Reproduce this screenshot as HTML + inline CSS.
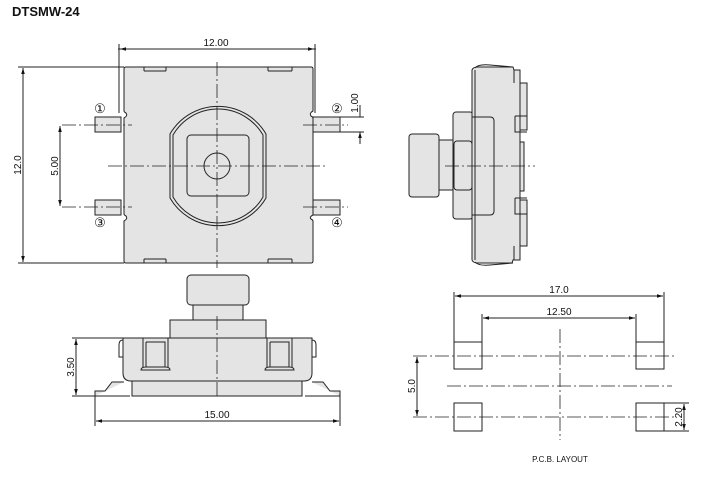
<!DOCTYPE html>
<html><head><meta charset="utf-8"><style>
html,body{margin:0;padding:0;background:#fff;width:703px;height:477px;overflow:hidden}
svg{display:block}
text{font-family:"Liberation Sans",sans-serif;fill:#111}
</style></head><body>
<svg width="703" height="477" viewBox="0 0 703 477" xmlns="http://www.w3.org/2000/svg">
<defs>
<marker id="a" viewBox="0 0 10 10" refX="10" refY="5" markerWidth="6" markerHeight="6" orient="auto-start-reverse"><path d="M0,2L10,5L0,8z" fill="#111"/></marker>
</defs>
<text x="12" y="16" font-size="13" font-weight="bold">DTSMW-24</text>
<g stroke="#222" stroke-width="1" fill="none">
<!-- TOP VIEW -->
<rect x="95" y="117" width="26" height="15" fill="#e4e4e4"/>
<rect x="95" y="200" width="26" height="15" fill="#e4e4e4"/>
<rect x="313" y="117" width="27" height="15" fill="#e4e4e4"/>
<rect x="313" y="200" width="27" height="15" fill="#e4e4e4"/>
<path d="M126,67 H311 Q313,67 313,69 V111 Q309,113 311,116 Q313,117 313,118 V215 Q309,217 311,219 Q313,220 313,221 V261 Q313,263 311,263 H126 Q124,263 124,261 V221 Q128,219 126,216 Q124,215 124,214 V118 Q128,116 126,113 Q124,112 124,111 V69 Q124,67 126,67Z" fill="#e4e4e4"/>
<path d="M144,71 V67 M166,71 V67 M144,71 H166 M268,71 H292 M268,71 V67 M292,71 V67 M144,259 H166 M144,259 V263 M166,259 V263 M268,259 H292 M268,259 V263 M292,259 V263"/>
<path d="M170,134 A55.5,55.5 0 0 1 266,134 V198 A55.5,55.5 0 0 1 170,198 Z"/>
<path d="M173,135 A52,52 0 0 1 263,135 V197 A52,52 0 0 1 173,197 Z"/>
<rect x="187" y="135" width="62" height="61" rx="4"/>
<circle cx="217" cy="166" r="13"/>
<g stroke-dasharray="14,3,2,3" stroke-width="0.8">
<path d="M108,166 H328 M217,62 V268 M62,125 H132 M62,207 H132 M303,125 H348 M303,207 H348"/>
</g>
<path d="M119,113 V44 M315,113 V44 M118,49 H316" />
<path d="M120,49 H314" marker-start="url(#a)" marker-end="url(#a)"/>
<path d="M18,67 H124 M18,263 H124"/>
<path d="M23,68 V262" marker-start="url(#a)" marker-end="url(#a)"/>
<path d="M60,126 V206" marker-start="url(#a)" marker-end="url(#a)"/>
<path d="M340,117 H364 M340,132 H364 M360,105 V117 M360,144 V132" />
<path d="M360,108 V117 M360,141 V132" marker-end="url(#a)"/>
<!-- SIDE VIEW -->
<rect x="409" y="134" width="30" height="63" rx="3" fill="#e4e4e4"/>
<rect x="439" y="140" width="14" height="50" fill="#e4e4e4"/>
<rect x="453" y="112" width="20" height="107" rx="3" fill="#e4e4e4"/>
<rect x="454" y="141" width="18" height="49" rx="3"/>
<path d="M472,70 Q473,67 478,67 H513 L514,70 H520 V83 H527 V130 H520 V142 H524 V191 H520 V200 H527 V246 H520 V260 H513 L512,263 H478 Q473,263 472,260 Z" fill="#e4e4e4"/>
<path d="M475,70 V260 M472,117 H490 Q494,117 494,121 V211 Q494,215 490,215 H472 M520,70 V260 M514,70 V83 M514,246 V260 M515,116 H527 M515,116 V132 H527 M515,198 H527 M515,198 V214 H527"/>
<path d="M475,68 Q478,64 490,65 L513,67 M475,262 Q478,266 490,265 L513,263"/>
<path d="M445,166 H535" stroke-dasharray="14,3,2,3" stroke-width="0.8"/>
<!-- FRONT VIEW -->
<rect x="187" y="275" width="62" height="30" rx="4" fill="#e4e4e4"/>
<rect x="193" y="305" width="50" height="15" fill="#e4e4e4"/>
<rect x="170" y="320" width="96" height="18" fill="#e4e4e4"/>
<path d="M95,396 V391 H105 L112,382 H124 M340,396 V391 H330 L323,382 H312 M95,396 H130 M340,396 H305" fill="#e4e4e4"/>
<rect x="132" y="381" width="170" height="15" fill="#e4e4e4"/>
<path d="M123,338 H312 V373 Q312,381 304,381 H131 Q123,381 123,373 Z" fill="#e4e4e4"/>
<path d="M123,340 Q119,340 119,345 V357 H123 M312,340 Q316,340 316,345 V357 H312"/>
<path d="M143,338 V367 M168,338 V367 M146,342 H165 V367 M146,342 V367 M141,370 Q141,367 146,367 H165 Q170,367 170,370 Z M267,338 V367 M292,338 V367 M270,342 H289 V367 M270,342 V367 M265,370 Q265,367 270,367 H289 Q294,367 294,370 Z"/>
<path d="M217,316 V398" stroke-dasharray="14,3,2,3" stroke-width="0.8"/>
<path d="M72,338 H123 M72,396 H95 M95,396 V426 M340,396 V426"/>
<path d="M76,339 V395" marker-start="url(#a)" marker-end="url(#a)"/>
<path d="M96,421 H339" marker-start="url(#a)" marker-end="url(#a)"/>
<!-- PCB -->
<rect x="454" y="342" width="28" height="27"/>
<rect x="454" y="403" width="28" height="28"/>
<rect x="636" y="342" width="28" height="27"/>
<rect x="636" y="403" width="28" height="28"/>
<g stroke-dasharray="14,3,2,3" stroke-width="0.8">
<path d="M413,356 H674 M413,417 H674 M447,386 H672 M560,329 V440"/>
</g>
<path d="M454,342 V292 M664,342 V292 M482,342 V314 M636,342 V314 M664,403 H689 M664,431 H689"/>
<path d="M455,296 H663" marker-start="url(#a)" marker-end="url(#a)"/>
<path d="M483,318 H635" marker-start="url(#a)" marker-end="url(#a)"/>
<path d="M417,357 V416" marker-start="url(#a)" marker-end="url(#a)"/>
<path d="M684,404 V430" marker-start="url(#a)" marker-end="url(#a)"/>
</g>
<g font-size="10">
<text x="216" y="46" text-anchor="middle">12.00</text>
<text transform="translate(21,165) rotate(-90)" text-anchor="middle">12.0</text>
<text transform="translate(58,166) rotate(-90)" text-anchor="middle">5.00</text>
<text transform="translate(358,103) rotate(-90)" text-anchor="middle">1.00</text>
<text transform="translate(74,367) rotate(-90)" text-anchor="middle">3.50</text>
<text x="217" y="418" text-anchor="middle">15.00</text>
<text x="559" y="293" text-anchor="middle">17.0</text>
<text x="559" y="315" text-anchor="middle">12.50</text>
<text transform="translate(415,386) rotate(-90)" text-anchor="middle">5.0</text>
<text transform="translate(682,417) rotate(-90)" text-anchor="middle">2.20</text>
<text x="560" y="462" text-anchor="middle" font-size="8">P.C.B.  LAYOUT</text>
<text x="100" y="113" text-anchor="middle" font-size="13">①</text>
<text x="100" y="227" text-anchor="middle" font-size="13">③</text>
<text x="337" y="113" text-anchor="middle" font-size="13">②</text>
<text x="337" y="227" text-anchor="middle" font-size="13">④</text>
</g>
</svg>
</body></html>
